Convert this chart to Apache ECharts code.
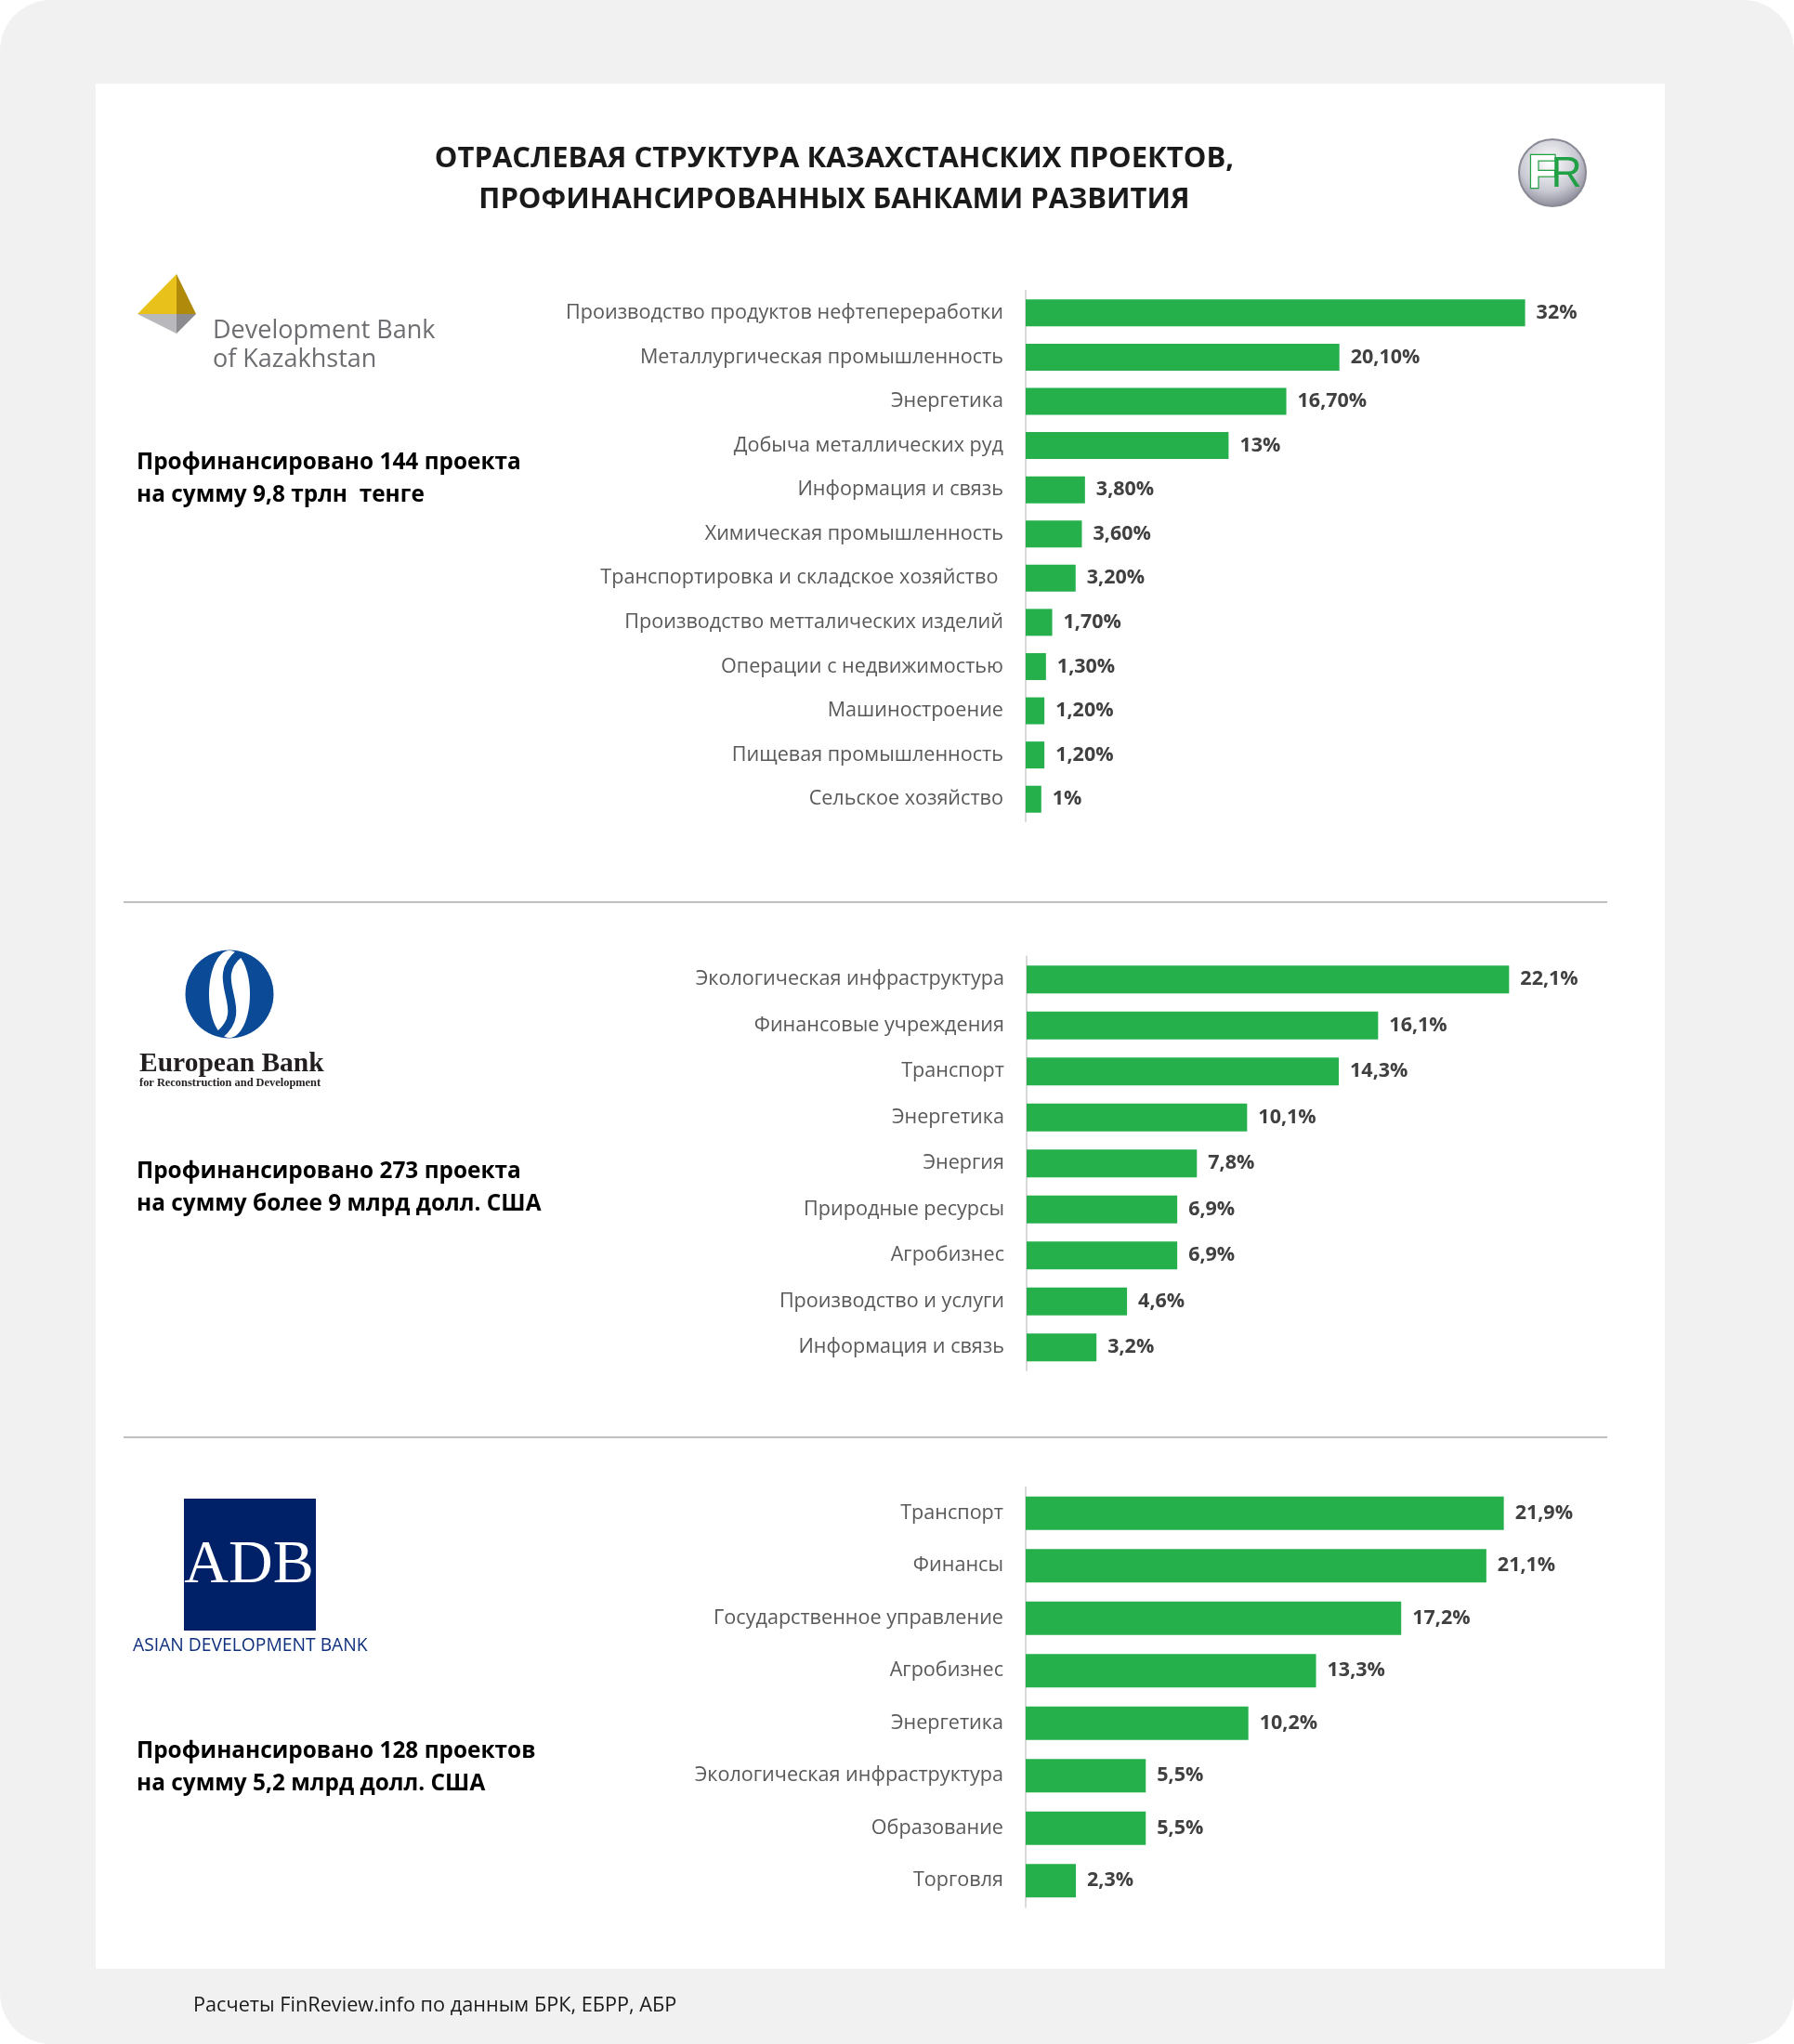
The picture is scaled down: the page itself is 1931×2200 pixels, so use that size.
<!DOCTYPE html>
<html>
<head>
<meta charset="utf-8">
<script src="https://cdn.jsdelivr.net/npm/echarts@6/dist/echarts.min.js"></script>
<style>
html,body{margin:0;padding:0;background:#ffffff;}
#chart{width:1931px;height:2200px;}
</style>
</head>
<body>
<div id="chart"></div>
<script>
// ---- Data ----
var brkCategories = ['Производство продуктов нефтепереработки','Металлургическая промышленность','Энергетика','Добыча металлических руд','Информация и связь','Химическая промышленность','Транспортировка и складское хозяйство ','Производство метталических изделий','Операции с недвижимостью','Машиностроение','Пищевая промышленность','Сельское хозяйство'];
var brkValues = [32, 20.1, 16.7, 13, 3.8, 3.6, 3.2, 1.7, 1.3, 1.2, 1.2, 1];
var brkLabels = ['32%','20,10%','16,70%','13%','3,80%','3,60%','3,20%','1,70%','1,30%','1,20%','1,20%','1%'];

var ebrdCategories = ['Экологическая инфраструктура','Финансовые учреждения','Транспорт','Энергетика','Энергия','Природные ресурсы','Агробизнес','Производство и услуги','Информация и связь'];
var ebrdValues = [22.1, 16.1, 14.3, 10.1, 7.8, 6.9, 6.9, 4.6, 3.2];
var ebrdLabels = ['22,1%','16,1%','14,3%','10,1%','7,8%','6,9%','6,9%','4,6%','3,2%'];

var adbCategories = ['Транспорт','Финансы','Государственное управление','Агробизнес','Энергетика','Экологическая инфраструктура','Образование','Торговля'];
var adbValues = [21.9, 21.1, 17.2, 13.3, 10.2, 5.5, 5.5, 2.3];
var adbLabels = ['21,9%','21,1%','17,2%','13,3%','10,2%','5,5%','5,5%','2,3%'];

var titleLines = ['ОТРАСЛЕВАЯ СТРУКТУРА КАЗАХСТАНСКИХ ПРОЕКТОВ,','ПРОФИНАНСИРОВАННЫХ БАНКАМИ РАЗВИТИЯ'];
var summaryBrk = ['Профинансировано 144 проекта','на сумму 9,8 трлн  тенге'];
var summaryEbrd = ['Профинансировано 273 проекта','на сумму более 9 млрд долл. США'];
var summaryAdb = ['Профинансировано 128 проектов','на сумму 5,2 млрд долл. США'];
var footerText = 'Расчеты FinReview.info по данным БРК, ЕБРР, АБР';

// ---- Styles ----
var FONT = '"Open Sans", "Noto Sans", sans-serif';
var GREEN = '#25b04c';

function yAxisFor(cats, gi) {
  return {
    type: 'category', gridIndex: gi, data: cats, inverse: true,
    axisLine: {show: true, lineStyle: {color: '#d9d9d9', width: 2}},
    axisTick: {show: false},
    axisLabel: {color: '#595959', fontSize: 21.6, fontFamily: FONT, margin: 24}
  };
}
function xAxisFor(max, gi) {
  return {type: 'value', gridIndex: gi, min: 0, max: max, show: false};
}
function barSeries(vals, labels, gi, bw) {
  return {
    type: 'bar', xAxisIndex: gi, yAxisIndex: gi, data: vals, barWidth: bw,
    itemStyle: {color: GREEN},
    label: {
      show: true, position: 'right', distance: 12,
      fontFamily: FONT, fontWeight: 'bold', fontSize: 21.5, color: '#404040',
      formatter: function (p) { return labels[p.dataIndex]; }
    },
    silent: true, animation: false
  };
}
function txt(text, x, y, font, fill, align) {
  return {type: 'text', z: 5, style: {text: text, x: x, y: y, font: font, fill: fill, textAlign: align || 'left', textVerticalAlign: 'middle'}};
}

var graphics = [
  // background
  {type: 'rect', z: -3, shape: {x: 0, y: 0, width: 1931, height: 2200, r: 55}, style: {fill: '#f1f1f1'}},
  {type: 'rect', z: -2, shape: {x: 103, y: 90, width: 1689, height: 2029}, style: {fill: '#ffffff'}},
  // title
  txt(titleLines[0], 898, 171, 'bold 31px ' + FONT, '#1a1a1a', 'center'),
  txt(titleLines[1], 898, 215, 'bold 31px ' + FONT, '#1a1a1a', 'center'),
  // FR logo
  {type: 'circle', z: 5, shape: {cx: 1671, cy: 186, r: 36},
    style: {fill: new echarts.graphic.RadialGradient(0.45, 0.35, 0.7, [{offset: 0, color: '#ffffff'}, {offset: 0.6, color: '#c9c9d3'}, {offset: 1, color: '#7d7d8c'}]), stroke: '#8a8a96', lineWidth: 2}},
  {type: 'text', z: 6, style: {text: 'F', x: 1660, y: 188, font: 'bold 50px "Liberation Sans", Arial, sans-serif', fill: '#ffffff', stroke: '#22a046', lineWidth: 2.5, textAlign: 'center', textVerticalAlign: 'middle'}},
  {type: 'text', z: 6, style: {text: 'R', x: 1686, y: 188, font: '46px "Liberation Sans", Arial, sans-serif', fill: '#22a046', textAlign: 'center', textVerticalAlign: 'middle'}},
  // separators
  {type: 'line', z: 1, shape: {x1: 133, y1: 971, x2: 1730, y2: 971}, style: {stroke: '#bfbfbf', lineWidth: 2}},
  {type: 'line', z: 1, shape: {x1: 133, y1: 1547, x2: 1730, y2: 1547}, style: {stroke: '#bfbfbf', lineWidth: 2}},
  // DBK logo
  {type: 'polygon', z: 5, shape: {points: [[190, 295], [148, 338], [190, 338]]}, style: {fill: '#e8c21a'}},
  {type: 'polygon', z: 5, shape: {points: [[190, 295], [190, 338], [211, 338]]}, style: {fill: '#b08a0a'}},
  {type: 'polygon', z: 5, shape: {points: [[148, 338], [190, 338], [190, 359]]}, style: {fill: '#b9b9bd'}},
  {type: 'polygon', z: 5, shape: {points: [[190, 338], [211, 338], [190, 359]]}, style: {fill: '#8c8c90'}},
  txt('Development Bank', 229, 356, '27px ' + FONT, '#6d6e71'),
  txt('of Kazakhstan', 229, 387, '27px ' + FONT, '#6d6e71'),
  txt(summaryBrk[0], 147, 498, 'bold 24.4px ' + FONT, '#000000'),
  txt(summaryBrk[1], 147, 533, 'bold 24.4px ' + FONT, '#000000'),
  // EBRD logo
  {type: 'circle', z: 5, shape: {cx: 247, cy: 1070, r: 48}, style: {fill: '#0b4a96'}},
  {type: 'ellipse', z: 6, shape: {cx: 247, cy: 1070, rx: 22, ry: 47}, style: {fill: '#ffffff'}},
  {type: 'bezierCurve', z: 7, shape: {x1: 258, y1: 1026, x2: 236, y2: 1114, cpx1: 222, cpy1: 1055, cpx2: 272, cpy2: 1085}, style: {stroke: '#0b4a96', lineWidth: 9, fill: null}},
  {type: 'ellipse', z: 7, shape: {cx: 247, cy: 1070, rx: 48, ry: 48}, style: {fill: null, stroke: '#ffffff', lineWidth: 1}},
  txt('European Bank', 150, 1145, 'bold 29.5px "Liberation Serif", "DejaVu Serif", serif', '#231f20'),
  txt('for Reconstruction and Development', 150, 1166, 'bold 12.4px "Liberation Serif", "DejaVu Serif", serif', '#231f20'),
  txt(summaryEbrd[0], 147, 1261, 'bold 24.4px ' + FONT, '#000000'),
  txt(summaryEbrd[1], 147, 1296, 'bold 24.4px ' + FONT, '#000000'),
  // ADB logo
  {type: 'rect', z: 5, shape: {x: 198, y: 1613, width: 142, height: 142}, style: {fill: '#002168'}},
  {type: 'text', z: 6, style: {text: 'ADB', x: 268, y: 1719, font: '66px "Liberation Serif", "DejaVu Serif", serif', fill: '#ffffff', textAlign: 'center', textVerticalAlign: 'bottom'}},
  txt('ASIAN DEVELOPMENT BANK', 143, 1772, '19.3px ' + FONT, '#0f2f7d'),
  txt(summaryAdb[0], 147, 1885, 'bold 24.4px ' + FONT, '#000000'),
  txt(summaryAdb[1], 147, 1920, 'bold 24.4px ' + FONT, '#000000'),
  // footer
  txt(footerText, 208, 2159, '21.7px ' + FONT, '#1a1a1a')
];

var chart = echarts.init(document.getElementById('chart'), null, {renderer: 'canvas', width: 1931, height: 2200});
chart.setOption({
  backgroundColor: '#ffffff',
  animation: false,
  grid: [
    {left: 1104, top: 313, width: 672, height: 571},
    {left: 1105, top: 1029.5, width: 705, height: 445.5},
    {left: 1104, top: 1600.5, width: 705, height: 452}
  ],
  xAxis: [xAxisFor(40, 0), xAxisFor(30, 1), xAxisFor(30, 2)],
  yAxis: [yAxisFor(brkCategories, 0), yAxisFor(ebrdCategories, 1), yAxisFor(adbCategories, 2)],
  series: [
    barSeries(brkValues, brkLabels, 0, 29),
    barSeries(ebrdValues, ebrdLabels, 1, 30),
    barSeries(adbValues, adbLabels, 2, 36)
  ],
  graphic: {elements: graphics}
});
</script>
</body>
</html>
